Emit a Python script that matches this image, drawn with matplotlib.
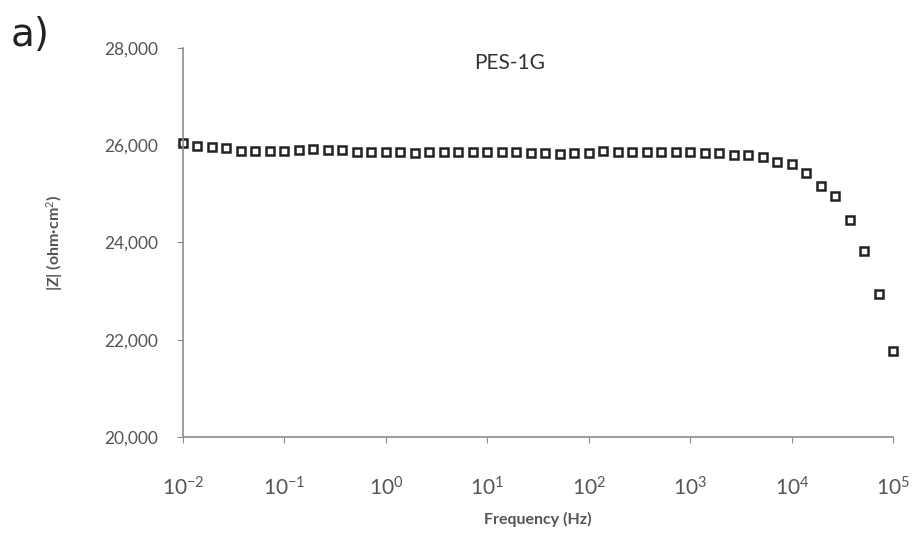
import numpy as np
import matplotlib as mpl
import matplotlib.pyplot as plt
from matplotlib.ticker import FuncFormatter, FixedLocator, NullLocator

# Impedance sweep, 7 points per decade from 10^-2 to 10^5 Hz
freq_hz = [
    0.01, 0.0139, 0.0193, 0.0268, 0.0373, 0.0518, 0.0720,
    0.1, 0.139, 0.193, 0.268, 0.373, 0.518, 0.720,
    1.0, 1.39, 1.93, 2.68, 3.73, 5.18, 7.20,
    10, 13.9, 19.3, 26.8, 37.3, 51.8, 72.0,
    100, 139, 193, 268, 373, 518, 720,
    1000, 1390, 1930, 2680, 3730, 5180, 7200,
    10000, 13900, 19300, 26800, 37300, 51800, 72000,
    100000,
]
z_mod = [
    26050, 25985, 25970, 25950, 25890, 25885, 25885,
    25880, 25900, 25915, 25900, 25900, 25865, 25850,
    25865, 25865, 25835, 25850, 25850, 25850, 25850,
    25850, 25865, 25850, 25835, 25840, 25820, 25840,
    25835, 25875, 25865, 25865, 25865, 25865, 25850,
    25850, 25845, 25845, 25800, 25795, 25750, 25660,
    25610, 25420, 25160, 24955, 24460, 23830, 22940,
    21770,
]
y_ticks = [20000, 22000, 24000, 26000, 28000]
x_ticks = [1e-2, 1e-1, 1e0, 1e1, 1e2, 1e3, 1e4, 1e5]

plt.rcParams['font.family'] = ['Lato', 'DejaVu Sans']
plt.rcParams['mathtext.fontset'] = 'custom'
plt.rcParams['mathtext.rm'] = 'Lato'
plt.rcParams['mathtext.it'] = 'Lato:italic'
plt.rcParams['mathtext.bf'] = 'Lato:bold'

grey = '#8c8c8c'
txt = '#555555'

fig = plt.figure(figsize=(9.13, 5.39), dpi=100)
ax = fig.add_axes([0.2004, 0.1892, 0.778, 0.722])

ax.plot(freq_hz, z_mod, linestyle='none', marker='s', markersize=5.5,
        markerfacecolor='white', markeredgecolor='#222222', markeredgewidth=1.8,
        clip_on=False)

ax.set_xscale('log')
ax.set_xlim(1e-2, 1e5)
ax.set_ylim(20000, 28000)
ax.xaxis.set_major_locator(FixedLocator(x_ticks))
ax.xaxis.set_minor_locator(NullLocator())
ax.xaxis.set_major_formatter(FuncFormatter(lambda v, p: r'$10^{%d}$' % round(np.log10(v))))
ax.set_yticks(y_ticks)
ax.yaxis.set_major_formatter(FuncFormatter(lambda v, p: f'{int(v):,}'))

for s in ['top', 'right']:
    ax.spines[s].set_visible(False)
for s in ['left', 'bottom']:
    ax.spines[s].set_color(grey)
    ax.spines[s].set_linewidth(1.2)

ax.tick_params(axis='y', colors=grey, labelcolor=txt, labelsize=12.5, length=4, pad=14)
ax.tick_params(axis='x', colors=grey, labelcolor=txt, labelsize=15, length=4, pad=24)

ax.set_xlabel('Frequency (Hz)', fontsize=11.5, fontweight='bold', color=txt, labelpad=9)
ax.set_ylabel('|Z| (ohm·cm$^{2}$)', fontsize=11.5, fontweight='bold', color=txt, labelpad=28)

ax.text(0.46, 0.962, 'PES-1G', transform=ax.transAxes, ha='center', va='center',
        fontsize=15, color='#333333')
fig.text(0.012, 0.935, 'a)', fontsize=28, color='#222222', family='DejaVu Sans',
         ha='left', va='center')

fig.savefig('out.png', dpi=100)
